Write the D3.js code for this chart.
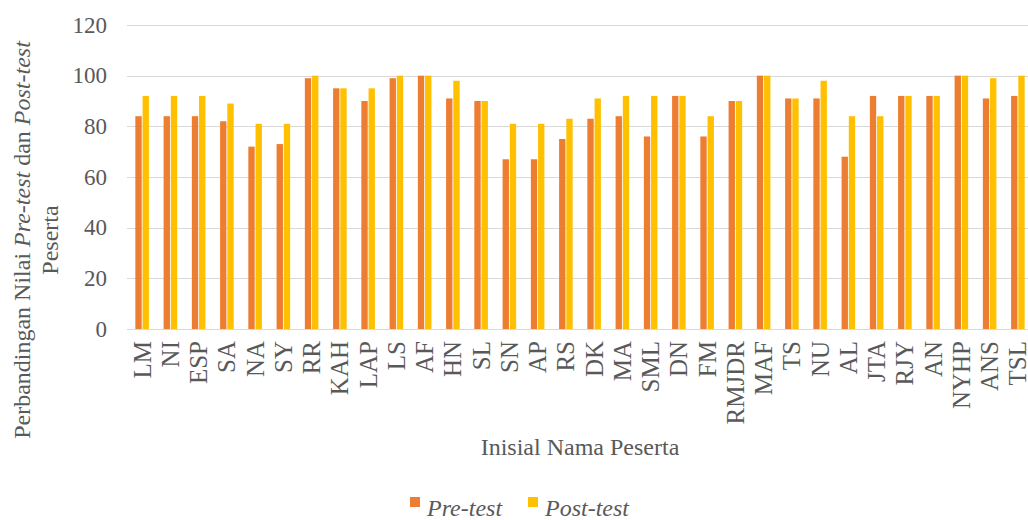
<!DOCTYPE html>
<html>
<head>
<meta charset="utf-8">
<script src="https://cdn.jsdelivr.net/npm/d3@7"></script>
<style>
  body { margin: 0; background: #fff; }
  text { font-family: "Liberation Serif", "Times New Roman", serif; fill: #595959; }
</style>
</head>
<body>
<script>
var categories = ['LM', 'NI', 'ESP', 'SA', 'NA', 'SY', 'RR', 'KAH', 'LAP', 'LS', 'AF', 'HN',
    'SL', 'SN', 'AP', 'RS', 'DK', 'MA', 'SML', 'DN', 'FM', 'RMJDR', 'MAF', 'TS',
    'NU', 'AL', 'JTA', 'RJY', 'AN', 'NYHP', 'ANS', 'TSL'];
var preTest = [84, 84, 84, 82, 72, 73, 99, 95, 90, 99, 100, 91,
    90, 67, 67, 75, 83, 84, 76, 92, 76, 90, 100, 91,
    91, 68, 92, 92, 92, 100, 91, 92];
var postTest = [92, 92, 92, 89, 81, 81, 100, 95, 95, 100, 100, 98,
    90, 81, 81, 83, 91, 92, 92, 92, 84, 90, 100, 91,
    98, 84, 84, 92, 92, 100, 99, 100];
var seriesNames = ['Pre-test', 'Post-test'];
var yTicks = [0, 20, 40, 60, 80, 100, 120];

var width = 1028;
var height = 520;
var colors = ['#ED7D31', '#FFC000'];

var svg = d3.select('body')
    .append('svg')
    .attr('width', width)
    .attr('height', height);

// plot area
var plotLeft = 128, plotRight = 1032, plotTop = 25, plotBottom = 329;

var x = d3.scaleBand()
    .domain(categories)
    .range([plotLeft, plotRight])
    .paddingInner(0.52)
    .paddingOuter(0.26);

var xInner = d3.scaleBand()
    .domain([0, 1])
    .range([0, x.bandwidth()])
    .paddingInner(0.12);

var y = d3.scaleLinear()
    .domain([0, 120])
    .range([plotBottom, plotTop]);

// gridlines
svg.append('g')
    .selectAll('line')
    .data(yTicks)
    .enter()
    .append('line')
    .attr('x1', plotLeft - 1)
    .attr('x2', width)
    .attr('y1', function (d) { return Math.round(y(d)) + 0.5; })
    .attr('y2', function (d) { return Math.round(y(d)) + 0.5; })
    .attr('stroke', '#d9d9d9')
    .attr('stroke-width', 1);

// y tick labels
svg.append('g')
    .selectAll('text')
    .data(yTicks)
    .enter()
    .append('text')
    .attr('x', 107)
    .attr('y', function (d) { return y(d); })
    .attr('dy', '0.33em')
    .attr('text-anchor', 'end')
    .style('font-size', '23px')
    .text(function (d) { return d; });

// bars
var groups = svg.append('g')
    .selectAll('g')
    .data(categories)
    .enter()
    .append('g')
    .attr('transform', function (d) { return 'translate(' + x(d) + ',0)'; });

groups.selectAll('rect')
    .data(function (d, i) { return [preTest[i], postTest[i]]; })
    .enter()
    .append('rect')
    .attr('x', function (d, j) { return xInner(j); })
    .attr('y', function (d) { return y(d); })
    .attr('width', xInner.bandwidth())
    .attr('height', function (d) { return y(0) - y(d); })
    .attr('fill', function (d, j) { return colors[j]; });

// x labels
svg.append('g')
    .selectAll('text')
    .data(categories)
    .enter()
    .append('text')
    .attr('transform', function (d) {
        return 'translate(' + (x(d) + x.bandwidth() / 2) + ',341) rotate(-90)';
    })
    .attr('dy', '0.34em')
    .attr('text-anchor', 'end')
    .style('font-size', '25px')
    .text(function (d) { return d; });

// axis titles
svg.append('text')
    .attr('x', 580)
    .attr('y', 455)
    .attr('text-anchor', 'middle')
    .style('font-size', '24px')
    .text('Inisial Nama Peserta');

var yTitle = svg.append('text')
    .attr('transform', 'translate(30,240) rotate(-90)')
    .attr('text-anchor', 'middle')
    .style('font-size', '24px');
yTitle.append('tspan').attr('x', 0).attr('y', 0).text('Perbandingan Nilai ');
yTitle.append('tspan').style('font-style', 'italic').text('Pre-test');
yTitle.append('tspan').text(' dan ');
yTitle.append('tspan').style('font-style', 'italic').text('Post-test');
yTitle.append('tspan').attr('x', 0).attr('y', 28).text('Peserta');

// legend
var legendX = [410, 528];
var legend = svg.append('g')
    .selectAll('g')
    .data(seriesNames)
    .enter()
    .append('g')
    .attr('transform', function (d, i) { return 'translate(' + legendX[i] + ',497)'; });
legend.append('rect')
    .attr('width', 10)
    .attr('height', 10)
    .attr('fill', function (d, i) { return colors[i]; });
legend.append('text')
    .attr('x', 17)
    .attr('y', 19)
    .style('font-size', '24px')
    .style('font-style', 'italic')
    .text(function (d) { return d; });
</script>
</body>
</html>
